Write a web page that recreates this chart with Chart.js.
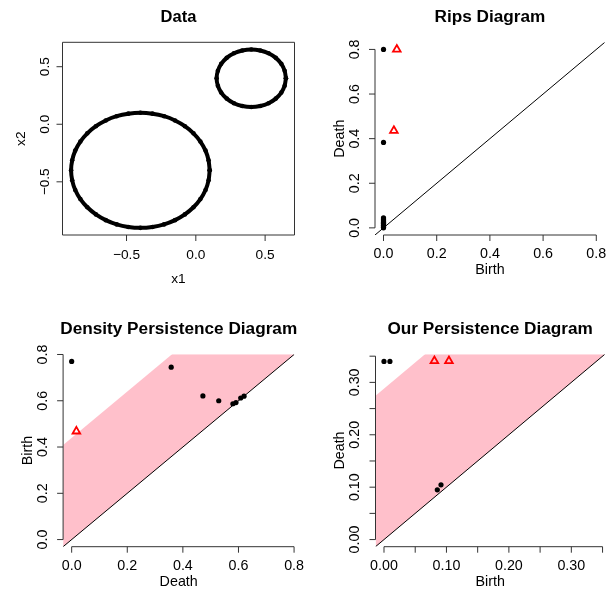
<!DOCTYPE html>
<html><head><meta charset="utf-8">
<script src="https://cdn.jsdelivr.net/npm/chart.js@4.4.0/dist/chart.umd.min.js"></script>
<style>
html,body{margin:0;padding:0;background:#fff;}
#wrap{position:relative;width:611px;height:592px;background:#fff;}
canvas{position:absolute;left:0;top:0;}
</style></head><body>
<div id="wrap">
<canvas id="c1" width="611" height="592"></canvas>
<canvas id="c2" width="611" height="592"></canvas>
<canvas id="c3" width="611" height="592"></canvas>
<canvas id="c4" width="611" height="592"></canvas>
</div>
<script>
// ---- Data panel: sample points on the two circles
const bigCircleX = [0.100,0.092,0.070,0.033,-0.017,-0.079,-0.150,-0.229,-0.313,-0.400,-0.487,-0.571,-0.650,-0.721,-0.783,-0.833,-0.870,-0.892,-0.900,-0.892,-0.870,-0.833,-0.783,-0.721,-0.650,-0.571,-0.487,-0.400,-0.313,-0.229,-0.150,-0.079,-0.017,0.033,0.070,0.092,0.100];
const bigCircleY = [-0.400,-0.313,-0.229,-0.150,-0.079,-0.017,0.033,0.070,0.092,0.100,0.092,0.070,0.033,-0.017,-0.079,-0.150,-0.229,-0.313,-0.400,-0.487,-0.571,-0.650,-0.721,-0.783,-0.833,-0.870,-0.892,-0.900,-0.892,-0.870,-0.833,-0.783,-0.721,-0.650,-0.571,-0.487,-0.400];
const smallCircleX = [0.650,0.641,0.617,0.577,0.525,0.465,0.400,0.335,0.275,0.223,0.183,0.159,0.150,0.159,0.183,0.223,0.275,0.335,0.400,0.465,0.525,0.577,0.617,0.641,0.650];
const smallCircleY = [0.400,0.465,0.525,0.577,0.617,0.641,0.650,0.641,0.617,0.577,0.525,0.465,0.400,0.335,0.275,0.223,0.183,0.159,0.150,0.159,0.183,0.223,0.275,0.335,0.400];

// ---- Rips diagram
const ripsDim0Birth = [0,0,0,0,0,0,0,0,0,0,0,0,0,0,0,0];
const ripsDim0Death = [0.800,0.383,0.000,0.003,0.006,0.009,0.012,0.015,0.018,0.021,0.025,0.029,0.033,0.037,0.041,0.045];
const ripsDim1Birth = [0.050,0.039];
const ripsDim1Death = [0.800,0.436];

// ---- Density persistence diagram
const densDim0Death = [0.000,0.358,0.472,0.529,0.580,0.591,0.608,0.620];
const densDim0Birth = [0.770,0.745,0.621,0.600,0.587,0.592,0.612,0.620];
const densDim1Death = [0.017];
const densDim1Birth = [0.468];
const densBand = [0.44];

// ---- Our persistence diagram
const ourDim0Birth = [0.000,0.0095,0.0854,0.0913];
const ourDim0Death = [0.340,0.340,0.095,0.1044];
const ourDim1Birth = [0.0807,0.104];
const ourDim1Death = [0.341,0.341];
const ourBand = [0.288];

// ---- Tick values / labels
const dataTicks = [-0.5,0,0.5];
const dataTickLabels = ['\u22120.5','0.0','0.5'];
const ripsTicks = [0,0.2,0.4,0.6,0.8];
const ripsTickLabels = ['0.0','0.2','0.4','0.6','0.8'];
const densTicks = [0,0.2,0.4,0.6,0.8];
const densTickLabels = ['0.0','0.2','0.4','0.6','0.8'];
const ourTicks = [0,0.05,0.10,0.15,0.20,0.25,0.30,0.35];
const ourTickLabels = ['0.00','','0.10','','0.20','','0.30',''];

const FONT = '"Liberation Sans", Arial, Helvetica, sans-serif';
const pts = (xs, ys) => xs.map((x, i) => ({x, y: ys[i]}));

const rAxes = {
  id: 'rAxes',
  afterDraw(chart, _args, o) {
    const ctx = chart.ctx, xs = chart.scales.x, ys = chart.scales.y, a = chart.chartArea;
    ctx.save();
    ctx.strokeStyle = '#333'; ctx.lineWidth = 1;
    const xp = o.xTicks.map(v => xs.getPixelForValue(v));
    const yp = o.yTicks.map(v => ys.getPixelForValue(v));
    ctx.beginPath();
    if (o.box) {
      ctx.rect(a.left, a.top, a.right - a.left, a.bottom - a.top);
    } else {
      ctx.moveTo(xp[0], a.bottom); ctx.lineTo(xp[xp.length - 1], a.bottom);
      ctx.moveTo(a.left, yp[0]); ctx.lineTo(a.left, yp[yp.length - 1]);
    }
    xp.forEach(p => { ctx.moveTo(p, a.bottom); ctx.lineTo(p, a.bottom + o.tick); });
    yp.forEach(p => { ctx.moveTo(a.left, p); ctx.lineTo(a.left - o.tick, p); });
    ctx.stroke();
    ctx.fillStyle = '#000'; ctx.textAlign = 'center'; ctx.textBaseline = 'alphabetic';
    ctx.font = o.fs + 'px ' + FONT;
    const d = 0.358 * o.fs;
    o.xLabels.forEach((t, i) => { if (t) ctx.fillText(t, xp[i], a.bottom + o.xLab + d); });
    o.yLabels.forEach((t, i) => {
      if (t) { ctx.save(); ctx.translate(a.left - o.yLab, yp[i]); ctx.rotate(-Math.PI / 2); ctx.fillText(t, 0, d); ctx.restore(); }
    });
    const cx = (a.left + a.right) / 2, cy = (a.top + a.bottom) / 2;
    ctx.fillText(o.xTitle, cx, a.bottom + o.xTit + d);
    ctx.save(); ctx.translate(a.left - o.yTit, cy); ctx.rotate(-Math.PI / 2); ctx.fillText(o.yTitle, 0, d); ctx.restore();
    ctx.font = 'bold ' + o.tfs + 'px ' + FONT;
    ctx.fillText(o.title, cx, a.top - 20);
    ctx.restore();
  }
};

function makePanel(id, region, lim, datasets, axes) {
  new Chart(document.getElementById(id), {
    type: 'scatter',
    data: { datasets },
    options: {
      responsive: false, animation: false, devicePixelRatio: 1,
      layout: { padding: { left: region[0], top: region[1], right: 611 - region[2], bottom: 592 - region[3] } },
      scales: {
        x: { type: 'linear', min: lim[0], max: lim[1], display: false },
        y: { type: 'linear', min: lim[0], max: lim[1], display: false }
      },
      plugins: { legend: { display: false }, tooltip: { enabled: false }, rAxes: axes }
    },
    plugins: [rAxes]
  });
}

const dotDs = (data, r) => ({ data, pointRadius: r, pointBackgroundColor: '#000', pointBorderWidth: 0, showLine: false });
const triDs = (data) => ({ data, pointStyle: 'triangle', pointRadius: 4.4, pointBorderColor: '#ff0000', pointBorderWidth: 1.8, pointBackgroundColor: 'rgba(0,0,0,0)', showLine: false });
const diagDs = (lim) => ({ data: [{x: lim[0], y: lim[0]}, {x: lim[1], y: lim[1]}], showLine: true, borderColor: '#000', borderWidth: 1, pointRadius: 0, fill: false });
const bandDs = (lim, c) => ({ data: [{x: lim[0], y: lim[0] + c}, {x: lim[1], y: lim[1] + c}], showLine: true, borderWidth: 0, borderColor: 'rgba(0,0,0,0)', pointRadius: 0, backgroundColor: '#FFC0CB', fill: 2 });
const ringDs = (data) => ({ data, showLine: true, borderColor: '#000', borderWidth: 4, borderJoinStyle: 'round', tension: 0.3, pointRadius: 2.3, pointBackgroundColor: '#000', pointBorderWidth: 0, fill: false });

// Panel 1: Data
const lim1 = [-0.962, 0.712];
makePanel('c1', [62.5, 42.3, 294.5, 235], lim1,
  [ringDs(pts(bigCircleX, bigCircleY)), ringDs(pts(smallCircleX, smallCircleY))],
  { box: true, tick: 6, xTicks: dataTicks, yTicks: dataTicks, xLabels: dataTickLabels, yLabels: dataTickLabels,
    fs: 13.7, tfs: 16.5, xLab: 19.3, yLab: 18.4, xTit: 43, yTit: 42, xTitle: 'x1', yTitle: 'x2', title: 'Data' });

// Panel 2: Rips
const lim2 = [-0.032, 0.832];
makePanel('c2', [375, 42.3, 607, 235], lim2,
  [dotDs(pts(ripsDim0Birth, ripsDim0Death), 2.6), triDs(pts(ripsDim1Birth, ripsDim1Death)), diagDs(lim2)],
  { box: false, tick: 6, xTicks: ripsTicks, yTicks: ripsTicks, xLabels: ripsTickLabels, yLabels: ripsTickLabels,
    fs: 14.3, tfs: 17.2, xLab: 18, yLab: 21.5, xTit: 34, yTit: 36, xTitle: 'Birth', yTitle: 'Death', title: 'Rips Diagram' });

// Panel 3: Density
const lim3 = [-0.0308, 0.8008];
makePanel('c3', [63.1, 354.3, 294.3, 546.7], lim3,
  [dotDs(pts(densDim0Death, densDim0Birth), 2.6), triDs(pts(densDim1Death, densDim1Birth)), diagDs(lim3), bandDs(lim3, densBand[0])],
  { box: false, tick: 6, xTicks: densTicks, yTicks: densTicks, xLabels: densTickLabels, yLabels: densTickLabels,
    fs: 14.3, tfs: 17.2, xLab: 18, yLab: 21.5, xTit: 34.3, yTit: 36, xTitle: 'Death', yTitle: 'Birth', title: 'Density Persistence Diagram' });

// Panel 4: Ours
const lim4 = [-0.0136, 0.3536];
makePanel('c4', [375.5, 354.3, 607.5, 546.7], lim4,
  [dotDs(pts(ourDim0Birth, ourDim0Death), 2.6), triDs(pts(ourDim1Birth, ourDim1Death)), diagDs(lim4), bandDs(lim4, ourBand[0])],
  { box: false, tick: 6, xTicks: ourTicks, yTicks: ourTicks, xLabels: ourTickLabels, yLabels: ourTickLabels,
    fs: 14.3, tfs: 17.2, xLab: 18.3, yLab: 22, xTit: 34.3, yTit: 36.7, xTitle: 'Birth', yTitle: 'Death', title: 'Our Persistence Diagram' });
</script>
</body></html>
